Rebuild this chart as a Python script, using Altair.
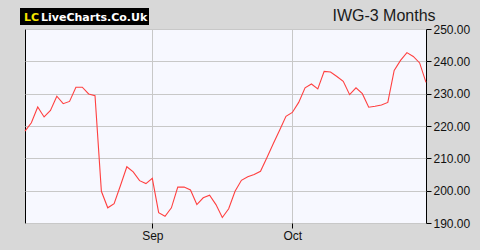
import altair as alt
import pandas as pd

# trading-day index and closing prices (pence)
day_index = list(range(64))
prices = [218.4, 221.0, 225.9, 222.8, 224.8, 229.2, 226.9, 227.6, 232.0, 232.0,
          229.9, 229.4, 199.8, 194.7, 196.0, 201.6, 207.4, 205.8, 203.1, 202.2,
          203.8, 193.2, 192.1, 194.7, 201.1, 201.1, 200.2, 195.7, 197.8, 198.6,
          195.7, 191.7, 194.4, 199.8, 203.2, 204.3, 205.0, 206.0, 210.2, 214.5,
          218.7, 223.0, 224.2, 227.3, 231.8, 233.0, 231.5, 236.9, 236.7, 235.3,
          233.8, 229.7, 231.8, 230.0, 225.8, 226.1, 226.5, 227.3, 237.2, 240.3,
          242.7, 241.5, 239.5, 233.5]
tick_positions = [20, 42]
tick_labels = ["Sep", "Oct"]
y_ticks = [190, 200, 210, 220, 230, 240, 250]
title_text = "IWG-3 Months"

df = pd.DataFrame({"i": day_index, "price": prices})

label_expr = " : ".join(
    [f"datum.value == {p} ? '{l}'" for p, l in zip(tick_positions, tick_labels)]
) + " : ''"

FONT = "Liberation Sans"

line = alt.Chart(df).mark_line(color="#ff4040", strokeWidth=1.1).encode(
    x=alt.X("i:Q", scale=alt.Scale(domain=[0, 63], nice=False, zero=False),
            axis=alt.Axis(values=tick_positions, labelExpr=label_expr, title=None,
                          grid=True, gridColor="#c8c8c8", domain=False,
                          tickColor="#000", tickSize=5, labelFont=FONT,
                          labelFontSize=12, labelColor="#111", labelPadding=2)),
    y=alt.Y("price:Q", scale=alt.Scale(domain=[190, 250], nice=False, zero=False),
            axis=alt.Axis(orient="right", values=y_ticks, format=".2f", title=None,
                          grid=True, gridColor="#c8c8c8", domain=False,
                          tickColor="#000", tickSize=5, labelFont=FONT,
                          labelFontSize=12, labelColor="#111", labelPadding=2)),
)

title = alt.Chart(pd.DataFrame({"t": [title_text]})).mark_text(
    font=FONT, fontSize=16, color="#1a1a1a", align="center", baseline="alphabetic"
).encode(x=alt.value(359), y=alt.value(-8), text="t:N")

logo_bg = alt.Chart(pd.DataFrame({"a": [0]})).mark_rect(color="#000").encode(
    x=alt.value(-5), x2=alt.value(124), y=alt.value(-21), y2=alt.value(-4))

logo_lc = alt.Chart(pd.DataFrame({"t": ["LC"]})).mark_text(
    font="DejaVu Sans", fontSize=11, fontWeight="bold", color="#f5e600",
    align="left", baseline="alphabetic"
).encode(x=alt.value(-1), y=alt.value(-8.5), text="t:N")

logo_txt = alt.Chart(pd.DataFrame({"t": ["LiveCharts.Co.Uk"]})).mark_text(
    font="DejaVu Sans", fontSize=11, fontWeight="bold", color="#ffffff",
    align="left", baseline="alphabetic"
).encode(x=alt.value(16), y=alt.value(-8.5), text="t:N")

chart = alt.layer(line, title, logo_bg, logo_lc, logo_txt).properties(
    width=401, height=194,
    autosize=alt.AutoSizeParams(type="none"),
    padding={"left": 25, "top": 29, "right": 54, "bottom": 27},
    background="#d8d8d8",
).configure_view(fill="#f7f8ff", stroke="#000", strokeWidth=1)

chart.save("out.html", embed_options={"renderer": "svg", "actions": False})
